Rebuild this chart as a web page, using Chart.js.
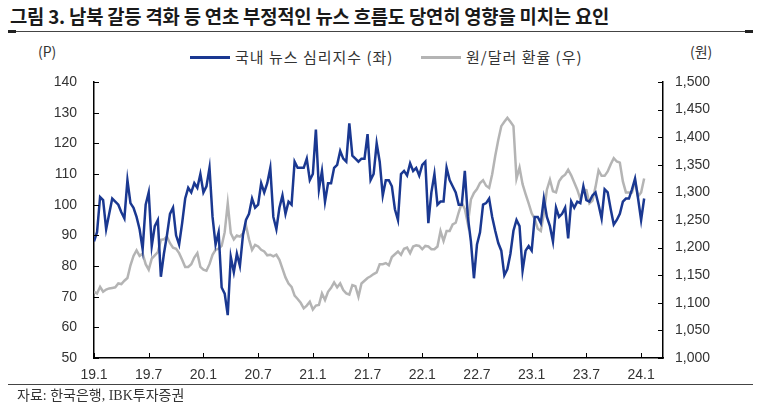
<style>
body { margin: 0; background: #fff; }
#wrap { position: relative; width: 767px; height: 411px; overflow: hidden; font-family: "Noto Sans CJK KR", "Liberation Sans", sans-serif; color: #333; }
#wrap canvas { position: absolute; left: 0; top: 0; }
.txt { position: absolute; white-space: nowrap; }
#title { left: 10px; top: 3px; font-size: 18.8px; font-weight: 700; color: #1a1a1a; line-height: 26px; letter-spacing: -0.2px; }
.rule { position: absolute; left: 8px; width: 745px; border-top: 1px solid #444; }
.cap { position: absolute; width: 8px; height: 3px; background: #222; }
.swatch { position: absolute; height: 3px; }
.legend { top: 47px; font-size: 15px; line-height: 20px; letter-spacing: 1px; }
.unit { top: 41px; font-size: 14px; line-height: 20px; }
#source { left: 17px; top: 386px; font-size: 14px; line-height: 20px; font-family: "Liberation Serif", "Noto Sans CJK KR", serif; color: #333; }
</style>

<div id="wrap">
  <div class="txt" id="title">그림 3. 남북 갈등 격화 등 연초 부정적인 뉴스 흐름도 당연히 영향을 미치는 요인</div>
  <div class="rule" style="top:31px"></div>
  <div class="cap" style="left:8px;top:30px"></div>
  <div class="cap" style="left:745px;top:30px"></div>

  <div class="swatch" style="left:190px;top:56px;width:40px;background:#1a3891"></div>
  <div class="txt legend" style="left:235px">국내 뉴스 심리지수 (좌)</div>
  <div class="swatch" style="left:421px;top:56px;width:40px;background:#b4b4b4"></div>
  <div class="txt legend" style="left:466px">원/달러 환율 (우)</div>

  <div class="txt unit" style="left:38px">(P)</div>
  <div class="txt unit" style="left:690px">(원)</div>

  <canvas id="myChart" width="767" height="411"></canvas>

  <div class="rule" style="top:384px"></div>
  <div class="txt" id="source">자료: 한국은행, IBK투자증권</div>
</div>

<script src="https://cdn.jsdelivr.net/npm/chart.js"></script>

<script>
// x labels every 6 months, data sampled every ~10 days (1/3 month) from 2019.1
const xLabels = ['19.1', '19.7', '20.1', '20.7', '21.1', '21.7', '22.1', '22.7', '23.1', '23.7', '24.1'];
const labelMonths = [0, 6, 12, 18, 24, 30, 36, 42, 48, 54, 60];
const stepMonths = 1 / 3;

// 국내 뉴스 심리지수 (P, left axis)
const newsIndex = [
  88, 91, 102.5, 101.5, 92, 97, 102, 101, 100, 97.5,
  95.5, 108, 100.5, 99, 96, 92, 85.5, 100, 104, 86.5,
  93, 95, 76.5, 84, 90, 97, 99, 90, 87, 94,
  102, 105.5, 104, 107, 105.5, 110, 104, 106, 112, 96,
  87, 91, 73, 71, 64, 83, 78, 84, 80, 90,
  95, 97, 102, 99, 100, 107, 104, 107, 112, 96,
  92, 99, 103, 97, 101, 100, 114, 112, 112, 112,
  115, 108, 110, 124.5, 105, 111, 101, 107, 107, 112,
  113, 117.5, 115, 114, 126.5, 116, 115, 114, 115, 115,
  123, 108, 110, 120, 114, 103, 108, 108, 106, 98.5,
  95, 110, 111, 109.5, 113.5, 111, 112, 109.5, 113, 114,
  94, 104, 110, 100, 101, 101, 112, 108, 106, 104,
  100, 100, 111, 96, 88, 76, 87, 91, 100, 100.5,
  102, 96, 91.5, 87.5, 85, 77, 79, 84, 91.5, 95,
  93, 78.5, 85, 86.5, 85, 96, 96, 94, 102, 96,
  93, 88, 99, 96, 97, 99, 89, 101, 99, 101,
  100.5, 106, 101.5, 101, 103, 104, 100, 95.5, 105, 104,
  98.5, 93.5, 95, 97, 101, 102, 102, 105, 108.5, 102,
  95, 102
];

// 원/달러 환율 (원, right axis)
const usdKrw = [
  1120, 1117, 1129, 1120, 1124, 1126, 1127, 1128, 1135, 1134,
  1140, 1145, 1168, 1185, 1195, 1185, 1189, 1170, 1160, 1180,
  1186, 1192, 1214, 1215, 1220, 1208, 1200, 1198, 1190, 1178,
  1165, 1165, 1170, 1182, 1190, 1165, 1160, 1158, 1170, 1187,
  1196, 1198, 1203, 1228, 1280, 1226, 1215, 1222, 1220, 1226,
  1240, 1215, 1196, 1205, 1202, 1196, 1193, 1186, 1187, 1184,
  1187, 1178, 1162, 1146, 1135, 1129, 1113, 1107, 1100, 1090,
  1095, 1102, 1088, 1095, 1096, 1117, 1105, 1120, 1127, 1137,
  1128, 1135, 1123, 1117, 1115, 1132, 1130, 1111, 1135, 1140,
  1145, 1148, 1152, 1155, 1170, 1170, 1172, 1168, 1183, 1188,
  1193, 1187, 1198, 1200, 1190, 1202, 1204, 1203, 1197, 1203,
  1202, 1197, 1197, 1202, 1230, 1212, 1230, 1230, 1242, 1245,
  1264, 1281, 1270, 1243, 1287, 1299, 1306, 1317, 1322, 1312,
  1308, 1333, 1366, 1395, 1420, 1428, 1435, 1428, 1420, 1325,
  1345, 1315, 1297, 1280, 1262, 1252, 1234, 1230, 1262, 1305,
  1323, 1302, 1300, 1320, 1328, 1332, 1341, 1331, 1318, 1305,
  1288, 1305, 1304, 1280, 1285, 1310, 1340, 1330, 1330, 1338,
  1351, 1362, 1356, 1354, 1320, 1300, 1300, 1300, 1320, 1293,
  1300, 1325
];

const toPoints = arr => arr.map((v, i) => ({ x: i * stepMonths, y: v }));

// small inward tick marks on all three axes
const innerTicks = {
  id: 'innerTicks',
  afterDraw(chart) {
    const ctx = chart.ctx;
    const a = chart.chartArea;
    ctx.save();
    ctx.strokeStyle = '#000';
    ctx.lineWidth = 1;
    ctx.beginPath();
    chart.scales.y.ticks.forEach((t, i) => {
      const py = Math.round(chart.scales.y.getPixelForTick(i)) + 0.5;
      ctx.moveTo(a.left, py); ctx.lineTo(a.left + 5, py);
    });
    chart.scales.y2.ticks.forEach((t, i) => {
      const py = Math.round(chart.scales.y2.getPixelForTick(i)) + 0.5;
      ctx.moveTo(a.right, py); ctx.lineTo(a.right - 5, py);
    });
    chart.scales.x.ticks.forEach((t, i) => {
      const px = Math.round(chart.scales.x.getPixelForTick(i)) + 0.5;
      ctx.moveTo(px, a.bottom); ctx.lineTo(px, a.bottom - 5);
    });
    ctx.stroke();
    ctx.restore();
  }
};

const tickFont = { family: 'Liberation Sans', size: 14 };

new Chart(document.getElementById('myChart'), {
  type: 'line',
  data: {
    datasets: [{
      label: '국내 뉴스 심리지수 (좌)',
      data: toPoints(newsIndex),
      yAxisID: 'y',
      borderColor: '#1a3891',
      borderWidth: 2.5,
      pointRadius: 0,
      tension: 0
    }, {
      label: '원/달러 환율 (우)',
      data: toPoints(usdKrw),
      yAxisID: 'y2',
      borderColor: '#b4b4b4',
      borderWidth: 2.5,
      pointRadius: 0,
      tension: 0
    }]
  },
  options: {
    responsive: false,
    animation: false,
    devicePixelRatio: 1,
    layout: { padding: { top: 82, left: 0, right: 0, bottom: 0 } },
    plugins: { legend: { display: false }, tooltip: { enabled: false } },
    scales: {
      x: {
        type: 'linear',
        min: 0,
        max: 62.4,
        afterBuildTicks: s => { s.ticks = labelMonths.map(v => ({ value: v })); },
        afterFit: s => { s.height = 53; },
        grid: { display: true, drawOnChartArea: false, drawTicks: false },
        border: { display: true, color: '#000', width: 1.5 },
        ticks: {
          padding: 9,
          color: '#333',
          font: tickFont,
          maxRotation: 0,
          autoSkip: false,
          callback: v => xLabels[labelMonths.indexOf(v)]
        }
      },
      y: {
        position: 'left',
        min: 50,
        max: 140,
        afterFit: s => { s.width = 94; },
        grid: { display: true, drawOnChartArea: false, drawTicks: false },
        border: { display: true, color: '#000', width: 1.5 },
        ticks: { stepSize: 10, padding: 17, color: '#333', font: tickFont }
      },
      y2: {
        position: 'right',
        min: 1000,
        max: 1500,
        afterFit: s => { s.width = 104; },
        grid: { display: true, drawOnChartArea: false, drawTicks: false },
        border: { display: true, color: '#000', width: 1.5 },
        ticks: {
          stepSize: 50,
          padding: 12,
          color: '#333',
          font: tickFont,
          callback: v => v.toLocaleString('en-US')
        }
      }
    }
  },
  plugins: [innerTicks]
});
</script>
